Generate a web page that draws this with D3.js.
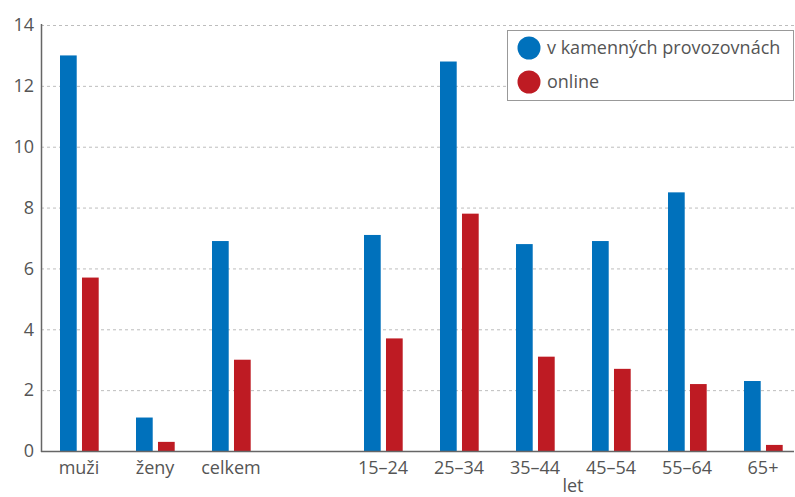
<!DOCTYPE html>
<html>
<head>
<meta charset="utf-8">
<script src="https://cdn.jsdelivr.net/npm/d3@7"></script>
<style>
  body { margin: 0; background: #fff; }
  svg text { font-family: "Open Sans", "Noto Sans", sans-serif; fill: #555; }
</style>
</head>
<body>
<svg id="chart" width="795" height="497"></svg>
<script>
// categories (empty slot separates the sex groups from the age groups)
let categories = ["muži", "ženy", "celkem", "", "15–24", "25–34", "35–44", "45–54", "55–64", "65+"];
let storeValues = [13.0, 1.1, 6.9, null, 7.1, 12.8, 6.8, 6.9, 8.5, 2.3];
let onlineValues = [5.7, 0.3, 3.0, null, 3.7, 7.8, 3.1, 2.7, 2.2, 0.2];
let seriesNames = ["v kamenných provozovnách", "online"];
let seriesColors = ["#0071bc", "#be1b23"];
let yTicks = [0, 2, 4, 6, 8, 10, 12, 14];
let ageLabel = "let";

let width = 795, height = 497;
let plotLeft = 41, plotRight = 794, plotTop = 25, plotBottom = 451;
let fontSize = 18;

const svg = d3.select("#chart");

const x = d3.scaleBand()
  .domain(categories)
  .range([plotLeft, plotLeft + 76 * categories.length])
  .padding(0);

const xSub = d3.scaleBand()
  .domain(seriesNames)
  .range([19, 57.7])
  .paddingInner(0.24);

const y = d3.scaleLinear()
  .domain([0, 14])
  .range([plotBottom, plotTop]);

// gridlines
svg.append("g")
  .selectAll("line")
  .data(yTicks.filter(d => d > 0))
  .enter()
  .append("line")
  .attr("x1", plotLeft)
  .attr("x2", plotRight)
  .attr("y1", d => y(d) + 0.5)
  .attr("y2", d => y(d) + 0.5)
  .attr("stroke", "#bdbdbd")
  .attr("stroke-width", 1)
  .attr("stroke-dasharray", "3,3");

// y axis
const yAxis = svg.append("g")
  .attr("transform", `translate(${plotLeft},0)`)
  .call(d3.axisLeft(y).tickValues(yTicks).tickSize(0).tickPadding(7));
yAxis.select(".domain").remove();
yAxis.selectAll("text")
  .attr("font-size", fontSize)
  .style("font-family", "'Open Sans', sans-serif")
  .attr("fill", "#555");

// bars
let rows = categories.map((c, i) => ({ cat: c, values: [storeValues[i], onlineValues[i]] }))
  .filter(d => d.cat !== "");

const groups = svg.append("g")
  .selectAll("g")
  .data(rows)
  .enter()
  .append("g")
  .attr("transform", d => `translate(${x(d.cat)},0)`);

groups.selectAll("rect")
  .data(d => d.values.map((v, k) => ({ name: seriesNames[k], value: v, color: seriesColors[k] })))
  .enter()
  .append("rect")
  .attr("x", d => xSub(d.name))
  .attr("width", xSub.bandwidth())
  .attr("y", d => y(d.value))
  .attr("height", d => y(0) - y(d.value))
  .style("fill", d => d.color);

// axis lines
svg.append("line")
  .attr("x1", plotLeft).attr("x2", plotRight)
  .attr("y1", plotBottom + 0.5).attr("y2", plotBottom + 0.5)
  .attr("stroke", "#666").attr("stroke-width", 1.5);
svg.append("line")
  .attr("x1", plotLeft + 0.5).attr("x2", plotLeft + 0.5)
  .attr("y1", plotTop - 1).attr("y2", plotBottom + 1)
  .attr("stroke", "#666").attr("stroke-width", 1.5);

// x axis labels
const xAxis = svg.append("g")
  .attr("transform", `translate(0,${plotBottom})`)
  .call(d3.axisBottom(x).tickSize(0));
xAxis.select(".domain").remove();
xAxis.selectAll("text")
  .attr("y", 23)
  .attr("dy", 0)
  .attr("font-size", fontSize)
  .style("font-family", "'Open Sans', sans-serif")
  .attr("fill", "#555");

// "let" under the age groups
let ageCats = categories.slice(4);
let ageCenter = (x(ageCats[0]) + x(ageCats[ageCats.length - 1]) + x.bandwidth()) / 2;
svg.append("text")
  .attr("x", ageCenter)
  .attr("y", 492)
  .attr("text-anchor", "middle")
  .attr("font-size", fontSize)
  .text(ageLabel);

// legend
const legend = svg.append("g");
legend.append("rect")
  .attr("x", 507.5).attr("y", 30.5)
  .attr("width", 286).attr("height", 70)
  .attr("fill", "#fff")
  .attr("stroke", "#999")
  .attr("stroke-width", 1);

const items = legend.selectAll("g")
  .data(seriesNames)
  .enter()
  .append("g")
  .attr("transform", (d, i) => `translate(529,${48 + i * 34})`);
items.append("circle")
  .attr("r", 11.5)
  .style("fill", (d, i) => seriesColors[i]);
items.append("text")
  .attr("x", 18)
  .attr("dy", "0.35em")
  .attr("font-size", fontSize)
  .text(d => d);
</script>
</body>
</html>
